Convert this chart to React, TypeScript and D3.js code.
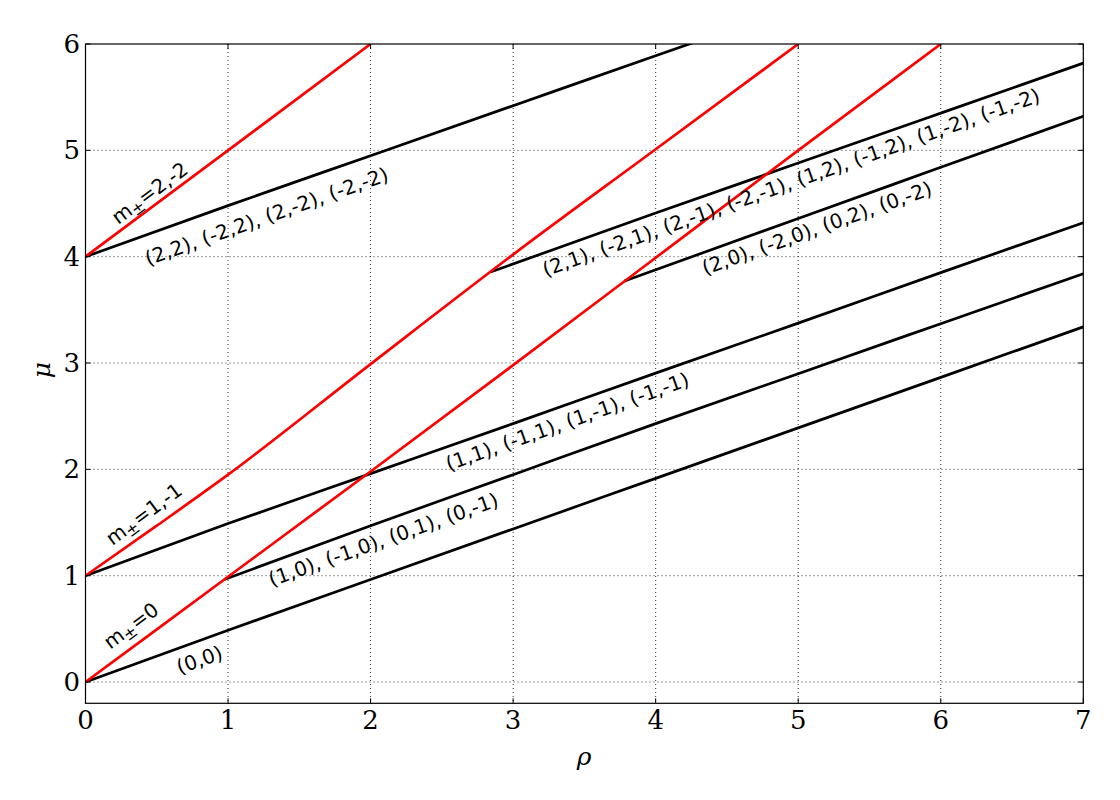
import React from "react";
import * as d3 from "d3";

// ---- data ----
const xTicks = [0, 1, 2, 3, 4, 5, 6, 7];
const yTicks = [0, 1, 2, 3, 4, 5, 6];

// red boundary curves  m± = 0 ; 1,-1 ; 2,-2   (rho, mu)
const red0: [number, number][] = [[0, 0], [1, 0.99], [2, 1.98], [3, 2.98], [4, 3.99], [5, 5.0], [6, 6.0]];
const red1: [number, number][] = [[0, 1], [0.5, 1.47], [1, 1.95], [2, 2.99], [3, 4.02], [4, 5.01], [5, 6.0]];
const red2: [number, number][] = [[0, 4], [1, 5.0], [2, 6.0]];

// black level curves (rho, mu)
const lvl00: [number, number][] = [[0, 0], [1, 0.487], [2, 0.964], [3, 1.44], [4, 1.915], [5, 2.39], [6, 2.865], [7, 3.34]];
const lvl10: [number, number][] = [[0.975, 0.965], [2, 1.47], [3, 1.95], [4, 2.43], [5, 2.9], [6, 3.37], [7, 3.84]];
const lvl11: [number, number][] = [[0, 1], [1, 1.49], [2, 1.96], [3, 2.43], [4, 2.905], [5, 3.375], [6, 3.85], [7, 4.32]];
const lvl20: [number, number][] = [[3.78, 3.77], [5, 4.36], [6, 4.84], [7, 5.32]];
const lvl21: [number, number][] = [[2.84, 3.855], [4, 4.41], [5, 4.88], [6, 5.35], [7, 5.82]];
const lvl22: [number, number][] = [[0, 4], [1, 4.48], [2, 4.95], [3, 5.42], [4, 5.89], [4.3, 6.03]];

const blackCurves = [lvl00, lvl10, lvl11, lvl20, lvl21, lvl22];
const redCurves = [red0, red1, red2];

// annotation texts, anchored at their centre in data coordinates
const labelTexts = [
  "(0,0)",
  "(1,0), (-1,0), (0,1), (0,-1)",
  "(1,1), (-1,1), (1,-1), (-1,-1)",
  "(2,0), (-2,0), (0,2), (0,-2)",
  "(2,1), (-2,1), (2,-1), (-2,-1), (1,2), (-1,2), (1,-2), (-1,-2)",
  "(2,2), (-2,2), (2,-2), (-2,-2)",
];
const labelRho = [0.8, 2.09, 3.38, 5.13, 4.95, 1.27];
const labelMu = [0.21, 1.34, 2.45, 4.27, 4.70, 4.38];

const mLabels = ["0", "1,-1", "2,-2"];
const mRho = [0.32, 0.41, 0.45];
const mMu = [0.53, 1.58, 4.60];

export default function App() {
  const W = 1120, H = 800;
  const left = 85.5, right = 1083.3, top = 44, bottom = 703.3;
  const x = d3.scaleLinear().domain([0, 7]).range([left, right]);
  const y = d3.scaleLinear().domain([-0.2, 6]).range([bottom, top]);
  const line = d3.line<[number, number]>().x((d) => x(d[0])).y((d) => y(d[1])).curve(d3.curveMonotoneX);

  const blackAngle = -19.5;
  const redAngle = -36.5;
  const tick = 5;

  return (
    <svg width={W} height={H} style={{ position: "absolute", left: 0, top: 0, background: "#fff" }}>
      <defs>
        <clipPath id="plot">
          <rect x={left} y={top} width={right - left} height={bottom - top} />
        </clipPath>
      </defs>
      <rect x={0} y={0} width={W} height={H} fill="#fff" />
      {/* grid */}
      <g stroke="#000" strokeWidth={0.8} strokeDasharray="1,3">
        {xTicks.slice(1, -1).map((t) => (
          <line key={"gx" + t} x1={x(t)} x2={x(t)} y1={top} y2={bottom} />
        ))}
        {yTicks.slice(0, -1).map((t) => (
          <line key={"gy" + t} x1={left} x2={right} y1={y(t)} y2={y(t)} />
        ))}
      </g>
      {/* curves */}
      <g clipPath="url(#plot)" fill="none">
        {blackCurves.map((c, i) => (
          <path key={"b" + i} d={line(c) || ""} stroke="#000" strokeWidth={2.7} />
        ))}
        {redCurves.map((c, i) => (
          <path key={"r" + i} d={line(c) || ""} stroke="#ff0000" strokeWidth={2.7} />
        ))}
      </g>
      {/* ticks */}
      <g stroke="#000" strokeWidth={1}>
        {xTicks.map((t) => (
          <g key={"tx" + t}>
            <line x1={x(t)} x2={x(t)} y1={bottom} y2={bottom - tick} />
            <line x1={x(t)} x2={x(t)} y1={top} y2={top + tick} />
          </g>
        ))}
        {yTicks.map((t) => (
          <g key={"ty" + t}>
            <line x1={left} x2={left + tick} y1={y(t)} y2={y(t)} />
            <line x1={right} x2={right - tick} y1={y(t)} y2={y(t)} />
          </g>
        ))}
      </g>
      {/* frame */}
      <rect x={left} y={top} width={right - left} height={bottom - top} fill="none" stroke="#000" strokeWidth={1.2} />
      {/* tick labels */}
      <g fontFamily="'DejaVu Serif', serif" fontSize={26} fill="#000">
        {xTicks.map((t) => (
          <text key={"lx" + t} x={x(t)} y={729} textAnchor="middle">{t}</text>
        ))}
        {yTicks.map((t) => (
          <text key={"ly" + t} x={80} y={y(t)} textAnchor="end" dominantBaseline="central">{t}</text>
        ))}
      </g>
      {/* axis labels */}
      <text x={584} y={765} textAnchor="middle" fontFamily="'DejaVu Serif', serif" fontStyle="italic" fontSize={25}>ρ</text>
      <text transform="translate(50,370) rotate(-90)" textAnchor="middle" fontFamily="'DejaVu Serif', serif" fontStyle="italic" fontSize={25}>μ</text>
      {/* annotations */}
      <g fontFamily="'DejaVu Sans', sans-serif" fontSize={20} fill="#000">
        {labelTexts.map((s, i) => (
          <text key={"a" + i} transform={`translate(${x(labelRho[i])},${y(labelMu[i])}) rotate(${blackAngle})`} textAnchor="middle" dominantBaseline="central">{s}</text>
        ))}
        {mLabels.map((s, i) => (
          <text key={"m" + i} transform={`translate(${x(mRho[i])},${y(mMu[i])}) rotate(${redAngle})`} textAnchor="middle" dominantBaseline="central">
            m<tspan fontSize={16} dy={5}>±</tspan><tspan dy={-5}>={s}</tspan>
          </text>
        ))}
      </g>
    </svg>
  );
}
